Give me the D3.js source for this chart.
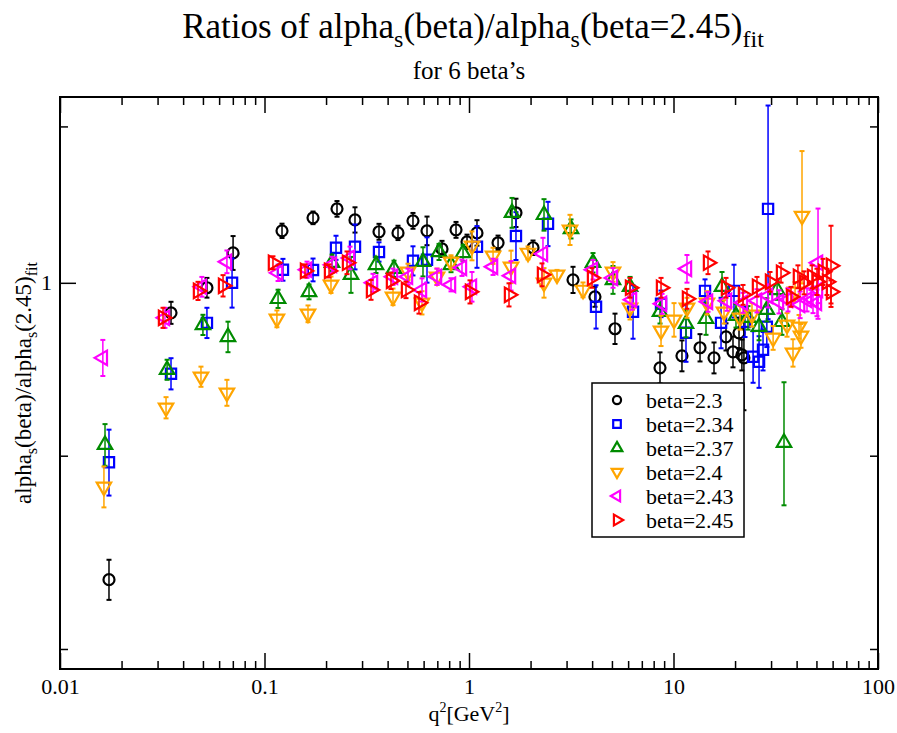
<!DOCTYPE html>
<html>
<head>
<meta charset="utf-8">
<script src="https://cdn.jsdelivr.net/npm/d3@7"></script>
<style>
  body { margin: 0; background: #fff; }
  svg text { font-family: "Liberation Serif", "Times New Roman", Times, Tinos, "Nimbus Roman", "FreeSerif", "DejaVu Serif", "Noto Serif", serif; fill: #000; }
</style>
</head>
<body>
<div id="chart"></div>
<script>
// [q^2 in GeV^2, ratio, error]
var beta230 = [
  [0.01736, 0.8345, 0.0102], [0.0349, 0.9819, 0.0066], [0.0523, 0.9970, 0.006], [0.0702, 1.0184, 0.0105],
  [0.1218, 1.0322, 0.0045], [0.1727, 1.0404, 0.004], [0.2262, 1.0461, 0.005], [0.2770, 1.0391, 0.008],
  [0.3630, 1.0316, 0.005], [0.4496, 1.0309, 0.0045], [0.5322, 1.0385, 0.005], [0.6232, 1.0322, 0.009],
  [0.738, 1.0209, 0.005], [0.864, 1.0328, 0.005], [0.978, 1.0253, 0.0045], [1.094, 1.0309, 0.008],
  [1.387, 1.0247, 0.0045], [1.697, 1.0436, 0.009], [2.056, 1.0216, 0.0045], [3.226, 1.0018, 0.008],
  [4.13, 0.9915, 0.006], [5.175, 0.9724, 0.009], [8.59, 0.9495, 0.009], [11.0, 0.9565, 0.009],
  [13.48, 0.9612, 0.008], [15.78, 0.9553, 0.009], [18.06, 0.9676, 0.008], [19.54, 0.9588, 0.009],
  [20.91, 0.9700, 0.009], [21.6, 0.9570, 0.009], [22.1, 0.9553, 0.03]
];
var beta234 = [
  [0.01736, 0.8964, 0.018], [0.0349, 0.9461, 0.009], [0.0523, 0.9759, 0.009], [0.0694, 1.0, 0.015],
  [0.1231, 1.008, 0.0067], [0.1727, 1.0079, 0.007], [0.2237, 1.0216, 0.0075], [0.2770, 1.0222, 0.014],
  [0.3630, 1.019, 0.006], [0.5322, 1.0135, 0.009], [0.6232, 1.0141, 0.014], [1.094, 1.0222, 0.013],
  [1.697, 1.029, 0.015], [2.434, 1.0366, 0.014], [4.18, 0.9855, 0.013], [6.34, 0.9825, 0.016],
  [8.69, 0.9873, 0.008], [11.51, 0.9700, 0.017], [14.26, 0.9951, 0.007], [17.08, 0.9759, 0.015],
  [19.76, 0.9951, 0.016], [22.37, 0.9765, 0.009], [24.5, 0.9559, 0.015], [26.2, 0.9530, 0.015],
  [27.4, 0.9600, 0.012], [28.6, 0.9736, 0.012], [29.0, 1.0461, 0.068]
];
var beta237 = [
  [0.0166, 0.9060, 0.0115], [0.0334, 0.9484, 0.0058], [0.0500, 0.9747, 0.006], [0.0663, 0.9676, 0.009],
  [0.1165, 0.9903, 0.0055], [0.1651, 0.9945, 0.0045], [0.2138, 1.0123, 0.005], [0.2648, 1.0049, 0.011],
  [0.3509, 1.011, 0.005], [0.4298, 1.0086, 0.005], [0.5957, 1.0129, 0.009], [0.7135, 1.019, 0.005],
  [0.8166, 1.011, 0.0045], [0.935, 1.0184, 0.005], [1.623, 1.0436, 0.0095], [2.327, 1.0423, 0.01],
  [3.154, 1.0334, 0.006], [4.04, 1.0123, 0.006], [5.06, 1.0018, 0.0085], [6.13, 0.9976, 0.006],
  [8.59, 0.9825, 0.007], [11.51, 0.9753, 0.008], [14.42, 0.9783, 0.0095], [17.27, 0.9976, 0.009],
  [20.21, 0.9801, 0.007], [23.14, 0.9789, 0.007], [26.2, 0.9736, 0.008], [28.6, 0.9837, 0.007],
  [32.1, 0.9957, 0.006], [33.9, 0.9765, 0.0077], [34.7, 0.9072, 0.034]
];
var beta240 = [
  [0.0164, 0.8831, 0.011], [0.0330, 0.9267, 0.006], [0.0489, 0.9444, 0.0058], [0.0655, 0.9352, 0.0074],
  [0.115, 0.9783, 0.005], [0.1632, 0.9813, 0.005], [0.2114, 0.9988, 0.005], [0.425, 0.9915, 0.005],
  [0.5031, 1.0067, 0.005], [0.589, 0.9879, 0.007], [0.6975, 1.0037, 0.005], [0.8166, 1.0129, 0.004],
  [1.034, 1.0228, 0.009], [1.311, 1.0166, 0.005], [1.605, 1.0098, 0.01], [1.943, 1.0184, 0.004],
  [2.327, 1.0, 0.009], [2.694, 1.0049, 0.003], [3.118, 1.0328, 0.0095], [3.61, 0.9957, 0.0045],
  [5.06, 1.0067, 0.006], [6.13, 0.9849, 0.007], [8.69, 0.9712, 0.009], [10.06, 0.9777, 0.01],
  [11.64, 0.9849, 0.006], [14.58, 0.9879, 0.007], [17.66, 0.9825, 0.007], [21.15, 0.9789, 0.007],
  [24.2, 0.9807, 0.007], [30.7, 0.9670, 0.007], [35.9, 0.9747, 0.007], [38.4, 0.9582, 0.008],
  [39.3, 0.9945, 0.006], [41.1, 0.9736, 0.007], [42.0, 0.9682, 0.007], [42.5, 1.0416, 0.042]
];
var beta243 = [
  [0.0162, 0.9553, 0.0105], [0.0326, 0.9789, 0.006], [0.0494, 0.9976, 0.006], [0.0655, 1.0129, 0.007],
  [0.1165, 1.0061, 0.005], [0.1614, 1.008, 0.005], [0.2138, 1.011, 0.005], [0.2619, 1.0153, 0.007],
  [0.3394, 1.0, 0.0055], [0.425, 1.0037, 0.005], [0.5031, 1.0037, 0.005], [0.589, 0.9957, 0.007],
  [0.6975, 1.0037, 0.005], [0.8166, 0.9988, 0.004], [0.924, 1.0092, 0.005], [1.034, 0.9976, 0.009],
  [1.311, 1.0098, 0.005], [1.605, 1.0043, 0.009], [2.30, 1.0178, 0.01], [4.04, 1.008, 0.006],
  [5.06, 1.003, 0.006], [6.27, 0.9897, 0.006], [8.79, 0.9873, 0.006], [11.64, 1.0086, 0.0085],
  [14.75, 0.9885, 0.006], [18.27, 0.9891, 0.006], [21.87, 0.9879, 0.006], [25.6, 0.9891, 0.007],
  [29.0, 0.9921, 0.007], [32.8, 0.9885, 0.007], [36.3, 0.9897, 0.007], [41.6, 0.9867, 0.008],
  [44.97, 0.9897, 0.007], [48.1, 0.9897, 0.008], [50.9, 1.0123, 0.034], [50.3, 0.9879, 0.008],
  [50.9, 0.9957, 0.008]
];
var beta245 = [
  [0.0319, 0.9789, 0.006], [0.0473, 0.9951, 0.0055], [0.0627, 0.9982, 0.0065], [0.110, 1.0123, 0.004],
  [0.1578, 1.0073, 0.004], [0.2068, 1.0073, 0.004], [0.2532, 1.0123, 0.007], [0.3318, 0.9957, 0.006],
  [0.4155, 1.0012, 0.005], [0.4920, 0.9957, 0.005], [0.5694, 0.9879, 0.0065], [1.0113, 0.9945, 0.007],
  [1.569, 0.9927, 0.007], [2.275, 1.0049, 0.007], [3.996, 1.003, 0.006], [6.13, 0.997, 0.006],
  [8.69, 0.997, 0.006], [11.64, 0.9903, 0.006], [14.75, 1.0123, 0.007], [18.06, 0.997, 0.006],
  [21.87, 0.9927, 0.006], [25.6, 0.9976, 0.006], [29.65, 1.0006, 0.006], [33.56, 1.0061, 0.006],
  [37.55, 0.9915, 0.006], [40.6, 1.0037, 0.007], [43.5, 1.0, 0.007], [47.6, 1.0037, 0.007],
  [50.3, 1.0006, 0.008], [53.8, 1.0067, 0.008], [56.3, 1.0006, 0.008], [58.9, 1.0104, 0.025],
  [58.9, 0.9945, 0.007]
];

var seriesLabels = ["beta=2.3", "beta=2.34", "beta=2.37", "beta=2.4", "beta=2.43", "beta=2.45"];
var xTickValues = [0.01, 0.1, 1, 10, 100];
var xTickLabels = ["0.01", "0.1", "1", "10", "100"];
var yMajorTicks = [1];
var yMinorTicks = [0.8, 0.9, 1.1];

var allSeries = [beta230, beta234, beta237, beta240, beta243, beta245];
var colors = ["#000000", "#0000ff", "#008b00", "#ffa500", "#ff00ff", "#ff0000"];
// circle, square, up, down, left, right
var shapes = [d3.symbolCircle, d3.symbolSquare, d3.symbolTriangle, d3.symbolTriangle, d3.symbolTriangle, d3.symbolTriangle];
var rotations = [0, 0, 0, 180, -90, 90];
var sizes = [95, 105, 90, 90, 90, 90];

var W = 897, H = 733;
var margin = {top: 97, right: 19, bottom: 64, left: 60},
    width = W - margin.left - margin.right,
    height = H - margin.top - margin.bottom;

var svg = d3.select("#chart").append("svg")
    .attr("width", W)
    .attr("height", H);

var x = d3.scaleLog().domain([0.01, 100]).range([margin.left, margin.left + width]);
var y = d3.scaleLog().domain([0.7903, 1.1199]).range([margin.top + height, margin.top]);

var minorX = [];
[0.01, 0.1, 1, 10].forEach(function(d) {
    for (var k = 2; k <= 9; k++) minorX.push(d * k);
});

function axisStyle(g) {
    g.attr("font-family", null);
    g.select(".domain").remove();
    g.selectAll("line").attr("stroke", "#000").attr("stroke-width", 1.5);
    g.selectAll("text").style("font-size", "22px").attr("fill", "#000");
}

// bottom axis
svg.append("g").attr("transform", "translate(0," + (margin.top + height) + ")")
    .call(d3.axisBottom(x).tickValues(xTickValues).tickSizeInner(-16).tickSizeOuter(0).tickPadding(9)
        .tickFormat(function(d, i) { return xTickLabels[i]; }))
    .call(axisStyle);
svg.append("g").attr("transform", "translate(0," + (margin.top + height) + ")")
    .call(d3.axisBottom(x).tickValues(minorX).tickSizeInner(-8).tickSizeOuter(0).tickFormat(""))
    .call(axisStyle);
// top axis (mirror)
svg.append("g").attr("transform", "translate(0," + margin.top + ")")
    .call(d3.axisTop(x).tickValues(xTickValues).tickSizeInner(-16).tickSizeOuter(0).tickFormat(""))
    .call(axisStyle);
svg.append("g").attr("transform", "translate(0," + margin.top + ")")
    .call(d3.axisTop(x).tickValues(minorX).tickSizeInner(-8).tickSizeOuter(0).tickFormat(""))
    .call(axisStyle);
// left axis
svg.append("g").attr("transform", "translate(" + margin.left + ",0)")
    .call(d3.axisLeft(y).tickValues(yMajorTicks).tickSizeInner(-16).tickSizeOuter(0).tickPadding(8)
        .tickFormat(d3.format("d")))
    .call(axisStyle);
svg.append("g").attr("transform", "translate(" + margin.left + ",0)")
    .call(d3.axisLeft(y).tickValues(yMinorTicks).tickSizeInner(-8).tickSizeOuter(0).tickFormat(""))
    .call(axisStyle);
// right axis (mirror)
svg.append("g").attr("transform", "translate(" + (margin.left + width) + ",0)")
    .call(d3.axisRight(y).tickValues(yMajorTicks).tickSizeInner(-16).tickSizeOuter(0).tickFormat(""))
    .call(axisStyle);
svg.append("g").attr("transform", "translate(" + (margin.left + width) + ",0)")
    .call(d3.axisRight(y).tickValues(yMinorTicks).tickSizeInner(-8).tickSizeOuter(0).tickFormat(""))
    .call(axisStyle);

// frame
svg.append("rect")
    .attr("x", margin.left).attr("y", margin.top)
    .attr("width", width).attr("height", height)
    .attr("fill", "none").attr("stroke", "#000").attr("stroke-width", 2);

// data
var plot = svg.append("g");
allSeries.forEach(function(data, si) {
    var g = plot.append("g").attr("stroke", colors[si]).attr("fill", "none");
    var bars = g.selectAll(".err").data(data).enter().append("g").attr("class", "err");
    bars.append("line")
        .attr("x1", function(d) { return x(d[0]); })
        .attr("x2", function(d) { return x(d[0]); })
        .attr("y1", function(d) { return y(d[1] - d[2]); })
        .attr("y2", function(d) { return y(d[1] + d[2]); })
        .attr("stroke-width", 1.5);
    [1, -1].forEach(function(s) {
        bars.append("line")
            .attr("x1", function(d) { return x(d[0]) - 2.5; })
            .attr("x2", function(d) { return x(d[0]) + 2.5; })
            .attr("y1", function(d) { return y(d[1] + s * d[2]); })
            .attr("y2", function(d) { return y(d[1] + s * d[2]); })
            .attr("stroke-width", 2);
    });
    g.selectAll(".pt").data(data).enter().append("path")
        .attr("class", "pt")
        .attr("d", d3.symbol().type(shapes[si]).size(sizes[si]))
        .attr("transform", function(d) {
            return "translate(" + x(d[0]) + "," + y(d[1]) + ") rotate(" + rotations[si] + ")";
        })
        .attr("stroke-width", 2.2);
});

// legend
var legend = svg.append("g").attr("transform", "translate(592,383)");
legend.append("rect").attr("width", 152).attr("height", 154)
    .attr("fill", "#fff").attr("stroke", "#000").attr("stroke-width", 1.5);
seriesLabels.forEach(function(label, i) {
    var row = legend.append("g").attr("transform", "translate(0," + (17 + i * 24) + ")");
    row.append("path")
        .attr("d", d3.symbol().type(shapes[i]).size(sizes[i] * 0.55))
        .attr("transform", "translate(25,0) rotate(" + rotations[i] + ")")
        .attr("fill", "none").attr("stroke", colors[i]).attr("stroke-width", 2.2);
    row.append("text").attr("x", 54).attr("y", 8).style("font-size", "22px").text(label);
});

// titles
var cx = margin.left + width / 2;
var title = svg.append("text").attr("x", cx + 4).attr("y", 38).attr("text-anchor", "middle").style("font-size", "35px");
title.append("tspan").text("Ratios of alpha");
title.append("tspan").attr("dy", 9).style("font-size", "24px").text("s");
title.append("tspan").attr("dy", -9).text("(beta)/alpha");
title.append("tspan").attr("dy", 9).style("font-size", "24px").text("s");
title.append("tspan").attr("dy", -9).text("(beta=2.45)");
title.append("tspan").attr("dy", 9).style("font-size", "24px").text("fit");

svg.append("text").attr("x", cx).attr("y", 79).attr("text-anchor", "middle")
    .style("font-size", "25px").text("for 6 beta\u2019s");

var xl = svg.append("text").attr("x", cx).attr("y", 721).attr("text-anchor", "middle").style("font-size", "22px");
xl.append("tspan").text("q");
xl.append("tspan").attr("dy", -9).style("font-size", "14px").text("2");
xl.append("tspan").attr("dy", 9).text("[GeV");
xl.append("tspan").attr("dy", -9).style("font-size", "14px").text("2");
xl.append("tspan").attr("dy", 9).text("]");

var yl = svg.append("text").attr("transform", "translate(31," + (margin.top + height / 2) + ") rotate(-90)")
    .attr("text-anchor", "middle").style("font-size", "23px");
yl.append("tspan").text("alpha");
yl.append("tspan").attr("dy", 6).style("font-size", "16px").text("s");
yl.append("tspan").attr("dy", -6).text("(beta)/alpha");
yl.append("tspan").attr("dy", 6).style("font-size", "16px").text("s");
yl.append("tspan").attr("dy", -6).text("(2.45)");
yl.append("tspan").attr("dy", 6).style("font-size", "16px").text("fit");
</script>
</body>
</html>
